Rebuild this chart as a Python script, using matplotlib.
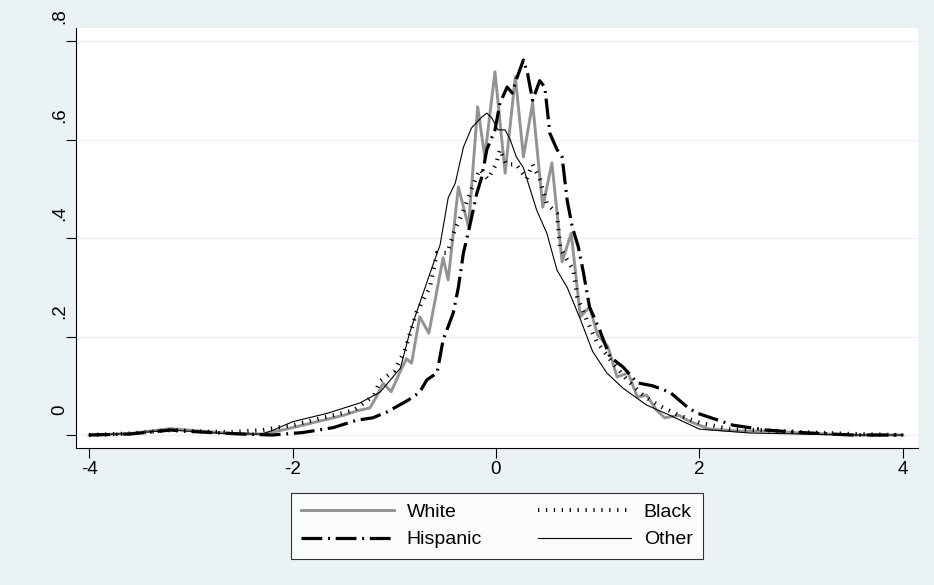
import numpy as np
import matplotlib
matplotlib.use("Agg")
import matplotlib.pyplot as plt
from matplotlib.transforms import ScaledTranslation

plt.rcParams["font.family"] = ["Liberation Sans", "DejaVu Sans"]

# kernel density estimates, by group
white_x = [-4.0, -3.6, -3.2, -2.9, -2.6, -2.3, -2.1, -1.9, -1.7, -1.5, -1.35, -1.24, -1.17, -1.11,
           -1.03, -0.94, -0.88, -0.83, -0.75, -0.66, -0.52, -0.47, -0.37, -0.27, -0.18, -0.11,
           -0.01, 0.09, 0.19, 0.27, 0.36, 0.46, 0.55, 0.65, 0.74, 0.83, 0.92, 1.0, 1.1, 1.19,
           1.3, 1.39, 1.48, 1.58, 1.66, 1.8, 1.9, 2.1, 2.4, 2.7, 3.0, 3.5, 4.0]
white_y = [0.0, 0.003, 0.013, 0.008, 0.003, 0.002, 0.01, 0.02, 0.03, 0.04, 0.05, 0.055, 0.08, 0.105,
           0.088, 0.13, 0.155, 0.146, 0.24, 0.207, 0.36, 0.315, 0.504, 0.423, 0.667, 0.565,
           0.738, 0.532, 0.728, 0.565, 0.675, 0.463, 0.553, 0.352, 0.41, 0.24, 0.26, 0.203, 0.18, 0.118,
           0.126, 0.077, 0.081, 0.05, 0.035, 0.04, 0.028, 0.012, 0.008, 0.008, 0.004, 0.0, 0.0]

black_x = [-4.0, -3.6, -3.2, -2.9, -2.6, -2.3, -2.0, -1.7, -1.4, -1.2, -1.14, -1.0, -0.9, -0.78,
           -0.65, -0.58, -0.48, -0.4, -0.33, -0.24, -0.16, -0.08, 0.0, 0.04, 0.1, 0.2, 0.3, 0.36,
           0.43, 0.5, 0.6, 0.63, 0.76, 0.8, 0.9, 0.99, 1.15, 1.29, 1.45, 1.6, 1.8, 2.0, 2.3, 2.6,
           3.0, 3.5, 4.0]
black_y = [0.0, 0.003, 0.01, 0.007, 0.006, 0.01, 0.02, 0.035, 0.05, 0.08, 0.11, 0.13, 0.17, 0.25,
           0.30, 0.37, 0.37, 0.42, 0.45, 0.50, 0.54, 0.52, 0.55, 0.58, 0.55, 0.55, 0.52, 0.55,
           0.52, 0.47, 0.45, 0.38, 0.335, 0.28, 0.23, 0.19, 0.146, 0.112, 0.08, 0.06, 0.04, 0.025, 0.012, 0.01,
           0.006, 0.002, 0.0]

hisp_x = [-4.0, -3.6, -3.2, -2.9, -2.5, -2.2, -1.9, -1.6, -1.37, -1.21, -1.07, -0.87, -0.75, -0.68,
          -0.58, -0.52, -0.42, -0.37, -0.32, -0.26, -0.19, -0.14, -0.09, -0.01, 0.04, 0.11, 0.16,
          0.21, 0.27, 0.31, 0.36, 0.43, 0.48, 0.53, 0.6, 0.65, 0.7, 0.75, 0.81, 0.86, 0.92, 1.02,
          1.12, 1.25, 1.39, 1.54, 1.71, 1.88, 1.97, 2.33, 2.66, 3.0, 3.5, 4.0]
hisp_y = [0.0, 0.002, 0.01, 0.006, 0.002, 0.0, 0.005, 0.015, 0.03, 0.035, 0.047, 0.07, 0.087, 0.112,
          0.126, 0.193, 0.248, 0.30, 0.37, 0.423, 0.49, 0.524, 0.58, 0.62, 0.675, 0.707, 0.695,
          0.728, 0.762, 0.735, 0.68, 0.72, 0.707, 0.613, 0.58, 0.565, 0.477, 0.423, 0.382, 0.33, 0.26, 0.213,
          0.159, 0.138, 0.106, 0.1, 0.087, 0.057, 0.045, 0.02, 0.01, 0.005, 0.0, 0.0]

other_x = [-4.0, -3.6, -3.2, -2.9, -2.6, -2.3, -2.19, -2.0, -1.66, -1.34, -1.14, -0.94, -0.85, -0.75,
           -0.63, -0.55, -0.47, -0.40, -0.32, -0.24, -0.14, -0.09, -0.04, 0.02, 0.09, 0.14, 0.2,
           0.27, 0.35, 0.40, 0.5, 0.6, 0.7, 0.83, 0.95, 1.09, 1.25, 1.48, 1.71, 2.0, 2.5, 3.0, 3.5, 4.0]
other_y = [0.0, 0.003, 0.01, 0.006, 0.002, 0.002, 0.01, 0.027, 0.044, 0.065, 0.087, 0.136, 0.207, 0.268,
           0.34, 0.386, 0.482, 0.512, 0.585, 0.624, 0.646, 0.654, 0.644, 0.62, 0.62, 0.60, 0.565,
           0.543, 0.49, 0.457, 0.41, 0.335, 0.30, 0.235, 0.17, 0.126, 0.095, 0.061, 0.04, 0.012, 0.004, 0.002, 0.0, 0.0]

x_ticks = [-4, -2, 0, 2, 4]
y_ticks = [0, 0.2, 0.4, 0.6, 0.8]
y_ticklabels = ["0", ".2", ".4", ".6", ".8"]

bg = "#EAF2F3"
fig = plt.figure(figsize=(9.34, 5.85), dpi=100, facecolor=bg)
ax = fig.add_axes([76 / 934, 1 - 448 / 585, (918 - 76) / 934, (448 - 28) / 585])
ax.set_facecolor("white")

l_white, = ax.plot(white_x, white_y, color="#939393", lw=2.1, solid_joinstyle="round", label="White")
l_black, = ax.plot(black_x, black_y, color="black", lw=3.0, linestyle=(0, (0.3, 1.6)),
                   dash_capstyle="butt", label="Black")
l_hisp, = ax.plot(hisp_x, hisp_y, color="black", lw=2.3, linestyle=(0, (6.5, 1.8, 0.6, 1.8)),
                  dash_capstyle="butt", label="Hispanic")
l_other, = ax.plot(other_x, other_y, color="black", lw=0.8, label="Other")

ax.set_xlim(-4.13, 4.15)
ax.set_ylim(-0.0264, 0.827)
ax.set_xticks(x_ticks)
ax.set_xticklabels([str(t) for t in x_ticks])
ax.set_yticks(y_ticks)
ax.set_yticklabels(y_ticklabels, rotation=90, va="center")
ax.grid(axis="y", color=bg, lw=1)
ax.set_axisbelow(True)

for s in ["top", "right"]:
    ax.spines[s].set_visible(False)
for s in ["left", "bottom"]:
    ax.spines[s].set_linewidth(0.8)
ax.tick_params(axis="both", length=7.5, width=0.8, labelsize=13.5, colors="black")
ax.tick_params(axis="x", pad=1.5)
ax.tick_params(axis="y", pad=-2)

# stata puts the rotated y labels a little above their ticks
shift = ScaledTranslation(0, 25 / 100, fig.dpi_scale_trans)
for lab in ax.get_yticklabels():
    lab.set_transform(lab.get_transform() + shift)

leg = fig.legend([l_white, l_hisp, l_black, l_other], ["White", "Hispanic", "Black", "Other"],
                 ncol=2, loc="center", bbox_to_anchor=(497 / 934, 1 - 526 / 585),
                 fontsize=14, frameon=True, fancybox=False, edgecolor="black",
                 handlelength=4.75, handletextpad=0.67, columnspacing=2.9,
                 labelspacing=0.5, borderpad=0.55)
leg.get_frame().set_linewidth(0.8)
leg.get_frame().set_facecolor("white")

fig.savefig("out.png", dpi=100, facecolor=bg)
